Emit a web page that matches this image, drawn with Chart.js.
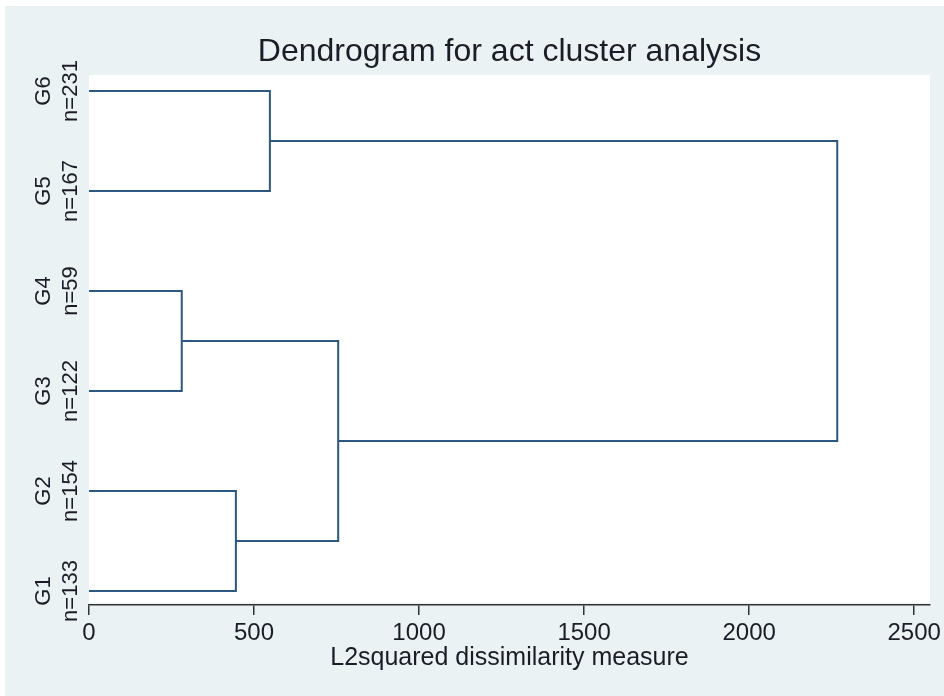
<!DOCTYPE html>
<html>
<head>
<meta charset="utf-8">
<script src="https://cdn.jsdelivr.net/npm/chart.js@4/dist/chart.umd.min.js"></script>
<style>
  html, body { margin: 0; padding: 0; background: #ffffff; }
  #wrap { width: 944px; height: 696px; position: relative; }
</style>
</head>
<body>
<div id="wrap"><canvas id="c" width="944" height="696"></canvas></div>
<script>
// ---- data ----
const leafLabels = ['G1', 'G2', 'G3', 'G4', 'G5', 'G6'];
const leafSizes = [133, 154, 122, 59, 167, 231];
// merges (node ids: leaves 0..5, new nodes 6..10)
const mergeLeft = [2, 0, 4, 6, 8];
const mergeRight = [3, 1, 5, 7, 9];
const mergeHeight = [281, 445, 548, 755, 2267];
const xTicks = [0, 500, 1000, 1500, 2000, 2500];
const titleText = 'Dendrogram for act cluster analysis';
const xTitle = 'L2squared dissimilarity measure';

// ---- build node positions ----
const nodeY = leafLabels.map((_, i) => i + 1);
const nodeX = leafLabels.map(() => 0);
const datasets = [];
mergeLeft.forEach((a, k) => {
  const b = mergeRight[k];
  const h = mergeHeight[k];
  datasets.push({
    data: [
      { x: nodeX[a], y: nodeY[a] },
      { x: h, y: nodeY[a] },
      { x: h, y: nodeY[b] },
      { x: nodeX[b], y: nodeY[b] }
    ]
  });
  nodeX.push(h);
  nodeY.push((nodeY[a] + nodeY[b]) / 2);
});

const FONT = '"Liberation Sans", Arial, Helvetica, sans-serif';
const TEXT = '#1c1c28';

const decor = {
  id: 'decor',
  beforeDraw(chart) {
    const ctx = chart.ctx;
    const a = chart.chartArea;
    ctx.save();
    ctx.fillStyle = '#ffffff';
    ctx.fillRect(0, 0, chart.width, chart.height);
    ctx.fillStyle = '#eaf2f3';
    ctx.fillRect(5, 6, chart.width - 5, chart.height - 6);
    ctx.fillStyle = '#ffffff';
    ctx.fillRect(a.left, a.top, a.right - a.left, a.bottom - a.top - 2);
    ctx.restore();
  },
  afterDraw(chart) {
    const ctx = chart.ctx;
    const a = chart.chartArea;
    const ys = chart.scales.y;
    ctx.save();
    ctx.fillStyle = TEXT;
    // title
    ctx.font = '32px ' + FONT;
    ctx.textAlign = 'center';
    ctx.textBaseline = 'alphabetic';
    ctx.fillText(titleText, (a.left + a.right) / 2, 61);
    // rotated leaf labels
    ctx.font = '22px ' + FONT;
    ctx.textBaseline = 'middle';
    leafLabels.forEach((lab, i) => {
      const py = ys.getPixelForValue(i + 1);
      ctx.save();
      ctx.translate(44, py);
      ctx.rotate(-Math.PI / 2);
      ctx.fillText(lab, 0, 0);
      ctx.restore();
      ctx.save();
      ctx.translate(71, py);
      ctx.rotate(-Math.PI / 2);
      ctx.fillText('n=' + leafSizes[i], 0, 0);
      ctx.restore();
    });
    ctx.restore();
  }
};

new Chart(document.getElementById('c'), {
  type: 'scatter',
  data: { datasets: datasets.map(d => Object.assign(d, {
    showLine: true,
    borderColor: '#2b5783',
    borderWidth: 2,
    pointRadius: 0,
    pointHoverRadius: 0,
    fill: false,
    tension: 0
  })) },
  options: {
    responsive: false,
    animation: false,
    events: [],
    layout: { padding: { left: 89, right: 14, top: 75, bottom: 0 } },
    plugins: {
      legend: { display: false },
      tooltip: { enabled: false },
      title: { display: false }
    },
    scales: {
      x: {
        type: 'linear',
        position: 'bottom',
        min: 0,
        max: 2548,
        afterBuildTicks(scale) { scale.ticks = xTicks.map(v => ({ value: v })); },
        afterFit(scale) { scale.height = 91; scale.paddingLeft = 0; scale.paddingRight = 0; },
        border: { display: true, color: '#333333', width: 1.5 },
        grid: { drawOnChartArea: false, drawTicks: true, tickLength: 10, color: '#333333', lineWidth: 1.5 },
        ticks: {
          color: TEXT,
          font: { family: FONT, size: 24 },
          padding: 4,
          maxRotation: 0,
          autoSkip: false,
          callback: (v) => String(v)
        },
        title: {
          display: true,
          text: xTitle,
          color: TEXT,
          font: { family: FONT, size: 25 },
          padding: { top: 0, bottom: 23 }
        }
      },
      y: {
        type: 'linear',
        display: false,
        min: 0.86,
        max: 6.16
      }
    }
  },
  plugins: [decor]
});
</script>
</body>
</html>
